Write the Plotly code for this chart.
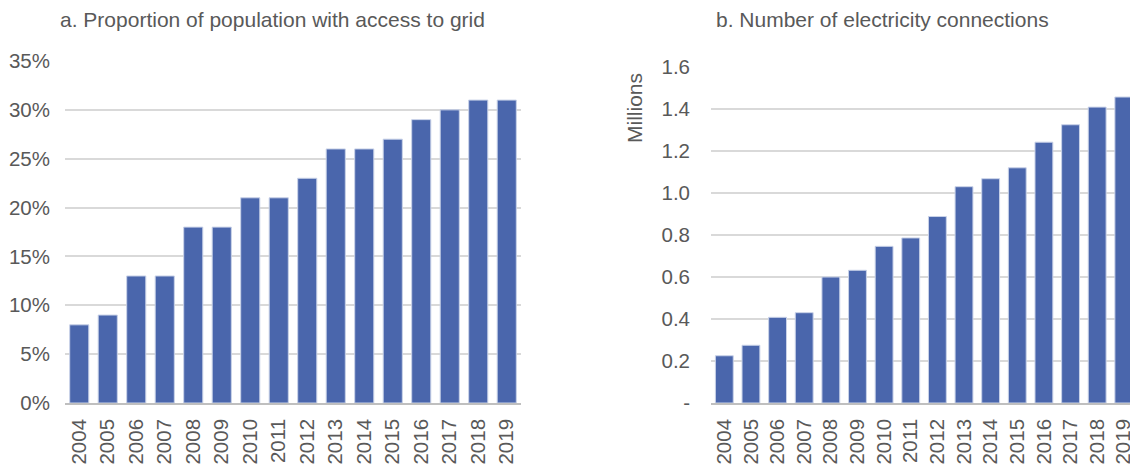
import plotly.graph_objects as go

years = [str(y) for y in range(2004, 2020)]
access_share = [0.08, 0.09, 0.13, 0.13, 0.18, 0.18, 0.21, 0.21, 0.23, 0.26, 0.26, 0.27, 0.29, 0.30, 0.31, 0.31]
connections_m = [0.225, 0.275, 0.408, 0.43, 0.60, 0.632, 0.746, 0.786, 0.888, 1.03, 1.068, 1.12, 1.242, 1.325, 1.409, 1.457]

title_a = "a. Proportion of population with access to grid"
title_b = "b. Number of electricity connections"
left_ticks = [0, 0.05, 0.10, 0.15, 0.20, 0.25, 0.30, 0.35]
left_ticktext = ["0%", "5%", "10%", "15%", "20%", "25%", "30%", "35%"]
right_ticks = [0, 0.2, 0.4, 0.6, 0.8, 1.0, 1.2, 1.4, 1.6]
right_ticktext = ["-", "0.2", "0.4", "0.6", "0.8", "1.0", "1.2", "1.4", "1.6"]

# The page body has an 8px margin; size the figure so it fills the window.
OFF = 8
W, H = 1138 - OFF, 468 - OFF
BAR = "#4A66AC"
GRID = "#D9D9D9"
TXT = "#595959"
FONT = "Liberation Sans, Arial, sans-serif"
FS = 20.5
FT = 21

fig = go.Figure()
fig.add_trace(go.Bar(x=years, y=access_share, marker=dict(color=BAR, line=dict(color="#C9D2E8", width=1)),
                     xaxis="x", yaxis="y", showlegend=False))
fig.add_trace(go.Bar(x=years, y=connections_m, marker=dict(color=BAR, line=dict(color="#C9D2E8", width=1)),
                     xaxis="x2", yaxis="y2", showlegend=False))

def px(x):
    return (x - OFF) / W

def py(y):
    return 1 - (y - OFF) / H

def xd(a, b):
    return [px(a), min(1.0, px(b))]

def yd(top, bottom):
    return [py(bottom), py(top)]

common_x = dict(type="category", tickangle=-90, showgrid=False, showline=True, linecolor="#BFBFBF",
                linewidth=1.5, ticks="", tickfont=dict(family=FONT, size=FS, color=TXT),
                ticklabelstandoff=6, fixedrange=True, automargin=False, ticklabeloverflow="allow")
common_y = dict(showgrid=True, gridcolor=GRID, gridwidth=1.5, zeroline=False, showline=False, ticks="",
                tickfont=dict(family=FONT, size=FS, color=TXT), fixedrange=True, automargin=False)

fig.update_layout(
    width=W, height=H,
    margin=dict(l=0, r=0, t=0, b=0),
    paper_bgcolor="white", plot_bgcolor="white",
    bargap=0.33,
    font=dict(family=FONT, size=FS, color=TXT),
    xaxis=dict(domain=xd(65, 521), anchor="y", range=[-0.5, 15.5], **common_x),
    yaxis=dict(domain=yd(61, 403), anchor="x", range=[0, 0.35], tickvals=left_ticks,
               ticktext=left_ticktext, ticklabelstandoff=14, **common_y),
    xaxis2=dict(domain=xd(711, 1135), anchor="y2", range=[-0.5, 15.42], **common_x),
    yaxis2=dict(domain=yd(67, 403), anchor="x2", range=[0, 1.6], tickvals=right_ticks,
                ticktext=right_ticktext, ticklabelstandoff=20, **common_y),
    annotations=[
        dict(text=title_a, x=px(272), y=py(20), xref="paper", yref="paper", showarrow=False,
             xanchor="center", yanchor="middle", font=dict(family=FONT, size=FT, color=TXT)),
        dict(text=title_b, x=px(882), y=py(20), xref="paper", yref="paper", showarrow=False,
             xanchor="center", yanchor="middle", font=dict(family=FONT, size=FT, color=TXT)),
        dict(text="Millions", x=px(635), y=py(108), xref="paper", yref="paper", showarrow=False,
             textangle=-90, xanchor="center", yanchor="middle", font=dict(family=FONT, size=FT, color=TXT)),
    ],
)

fig.write_html("out.html")
